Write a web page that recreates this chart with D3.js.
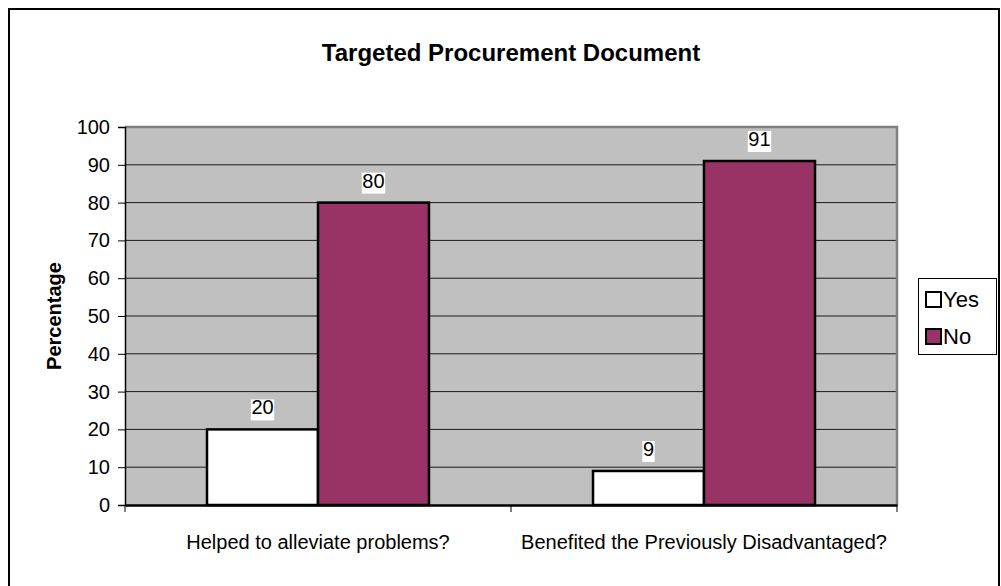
<!DOCTYPE html>
<html>
<head>
<meta charset="utf-8">
<script src="https://cdn.jsdelivr.net/npm/d3@7"></script>
<style>
  html, body { margin: 0; padding: 0; background: #fff; }
  svg { display: block; font-family: "Liberation Sans", Arial, sans-serif; }
</style>
</head>
<body>
<svg id="chart" width="1001" height="586"></svg>
<script>
// Survey answers, in percent
const categories = ["Helped to alleviate problems?", "Benefited the Previously Disadvantaged?"];
const seriesNames = ["Yes", "No"];
const yesValues = [20, 9];
const noValues = [80, 91];
const yTicks = [0, 10, 20, 30, 40, 50, 60, 70, 80, 90, 100];
const colors = ["#ffffff", "#993366"];

const svg = d3.select("#chart");

// outer frame
svg.append("rect")
  .attr("x", 9).attr("y", 9).attr("width", 990).attr("height", 640)
  .attr("fill", "none").attr("stroke", "#000").attr("stroke-width", 2);

const plot = { left: 125, right: 897, top: 127, bottom: 505 };

const y = d3.scaleLinear().domain([0, 100]).range([plot.bottom, plot.top]);
const x0 = d3.scaleBand().domain(categories)
  .range([plot.left, plot.right]).paddingInner(0.4249).paddingOuter(0.21245);
const x1 = d3.scaleBand().domain(seriesNames).range([0, x0.bandwidth()]);

// plot background
svg.append("rect")
  .attr("x", plot.left).attr("y", plot.top)
  .attr("width", plot.right - plot.left).attr("height", plot.bottom - plot.top)
  .attr("fill", "#c0c0c0");

// gridlines
svg.append("g").selectAll("line")
  .data(yTicks.filter(d => d > 0 && d < 100))
  .join("line")
  .attr("x1", plot.left).attr("x2", plot.right)
  .attr("y1", d => y(d)).attr("y2", d => y(d))
  .attr("stroke", "#1a1a1a").attr("stroke-width", 1);

// plot border (top and right)
svg.append("path")
  .attr("d", `M${plot.left},${plot.top}H${plot.right}V${plot.bottom}`)
  .attr("fill", "none").attr("stroke", "#808080").attr("stroke-width", 2.5);

// bars
const rows = categories.map((c, i) => ({ cat: c, vals: [yesValues[i], noValues[i]] }));
const groups = svg.append("g").selectAll("g")
  .data(rows).join("g")
  .attr("transform", d => `translate(${x0(d.cat)},0)`);

groups.selectAll("rect")
  .data(d => d.vals.map((v, j) => ({ name: seriesNames[j], v, j })))
  .join("rect")
  .attr("x", d => x1(d.name))
  .attr("y", d => y(d.v))
  .attr("width", x1.bandwidth())
  .attr("height", d => y(0) - y(d.v))
  .attr("fill", d => colors[d.j])
  .attr("stroke", "#000").attr("stroke-width", 2.5);

// value labels with white backing
const labels = groups.selectAll("g.lbl")
  .data(d => d.vals.map((v, j) => ({ name: seriesNames[j], v })))
  .join("g").attr("class", "lbl")
  .attr("transform", d => `translate(${x1(d.name) + x1.bandwidth() / 2},${y(d.v) - 15})`);
labels.append("rect")
  .attr("x", d => -String(d.v).length * 5.6 - 0.5)
  .attr("y", -15)
  .attr("width", d => String(d.v).length * 11.2 + 1)
  .attr("height", 21)
  .attr("fill", "#fff");
labels.append("text")
  .attr("text-anchor", "middle")
  .attr("font-size", 20)
  .attr("fill", "#000")
  .text(d => d.v);

// y axis
const yAxis = svg.append("g")
  .attr("transform", `translate(${plot.left},0)`)
  .call(d3.axisLeft(y).tickValues(yTicks).tickSize(7).tickPadding(8).tickFormat(d3.format("d")));
yAxis.select(".domain").attr("stroke", "#000").attr("stroke-width", 1.5);
yAxis.selectAll(".tick line").attr("stroke", "#000");
yAxis.selectAll("text").attr("font-size", 20).attr("font-family", "Liberation Sans, Arial, sans-serif").attr("fill", "#000");

// x axis
const xAxis = svg.append("g")
  .attr("transform", `translate(0,${plot.bottom})`)
  .call(d3.axisBottom(x0).tickSize(0).tickPadding(30));
xAxis.select(".domain").attr("stroke", "#000").attr("stroke-width", 2.5);
xAxis.selectAll("text").attr("font-size", 20).attr("font-family", "Liberation Sans, Arial, sans-serif").attr("fill", "#000");
// category boundary ticks
const bounds = [plot.left].concat(categories.map(c => x0(c) + x0.bandwidth() + x0.step() * x0.paddingOuter()));
xAxis.append("g").selectAll("line")
  .data(bounds).join("line")
  .attr("x1", d => d).attr("x2", d => d)
  .attr("y1", 0).attr("y2", 7)
  .attr("stroke", "#000").attr("stroke-width", 1);

// title
svg.append("text")
  .attr("x", (plot.left + plot.right) / 2).attr("y", 61)
  .attr("text-anchor", "middle")
  .attr("font-size", 24).attr("font-weight", "bold")
  .text("Targeted Procurement Document");

// y axis title
svg.append("text")
  .attr("transform", `translate(61,${(plot.top + plot.bottom) / 2}) rotate(-90)`)
  .attr("text-anchor", "middle")
  .attr("font-size", 20).attr("font-weight", "bold")
  .text("Percentage");

// legend
const legend = svg.append("g").attr("transform", "translate(918,278)");
legend.append("rect")
  .attr("x", 0.5).attr("y", 0.5).attr("width", 78).attr("height", 76)
  .attr("fill", "#fff").attr("stroke", "#000").attr("stroke-width", 1);
const items = legend.selectAll("g.item")
  .data(seriesNames).join("g").attr("class", "item")
  .attr("transform", (d, i) => `translate(8,${14 + i * 37})`);
items.append("rect")
  .attr("x", 0).attr("y", 0).attr("width", 15).attr("height", 15)
  .attr("fill", (d, i) => colors[i]).attr("stroke", "#000").attr("stroke-width", 2);
items.append("text")
  .attr("x", 17).attr("y", 15)
  .attr("font-size", 22)
  .text(d => d);
</script>
</body>
</html>
